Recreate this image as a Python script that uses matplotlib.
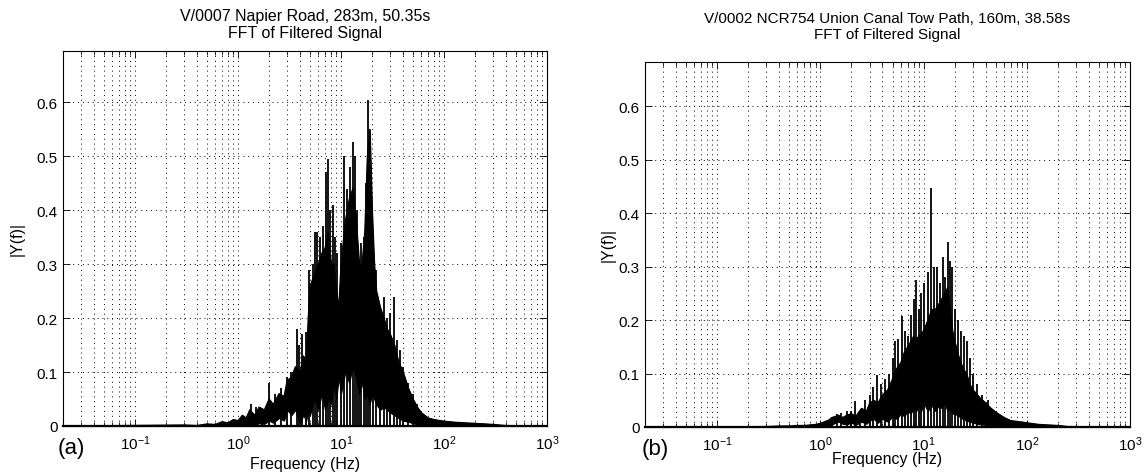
import matplotlib
matplotlib.use("Agg")
import matplotlib.pyplot as plt
from matplotlib.ticker import LogLocator, FixedLocator, NullFormatter

plt.rcParams['font.family'] = ['Liberation Sans', 'DejaVu Sans']
plt.rcParams['mathtext.fontset'] = 'custom'
plt.rcParams['mathtext.rm'] = 'Liberation Sans'
plt.rcParams['mathtext.it'] = 'Liberation Sans'

# ---------------- data ----------------
title_a = "V/0007 Napier Road, 283m, 50.35s\nFFT of Filtered Signal"
title_b = "V/0002 NCR754 Union Canal Tow Path, 160m, 38.58s\nFFT of Filtered Signal"
x_label = "Frequency (Hz)"
y_label = "|Y(f)|"
panel_tags = ["(a)", "(b)"]
y_ticks = [0, 0.1, 0.2, 0.3, 0.4, 0.5, 0.6]
y_tick_labels = ['0', '0.1', '0.2', '0.3', '0.4', '0.5', '0.6']

# panel (a): solid body of the spectrum (top / bottom envelope)
body_freq_a = [0.02, 0.3, 0.4, 0.5, 0.6, 0.7, 0.8, 0.9, 1.0, 1.1,
               1.2, 1.3, 1.45, 1.6, 1.8, 2.0, 2.2, 2.5, 2.8, 3.0,
               3.3, 3.6, 4.0, 4.3, 4.6, 4.8, 5.0, 5.5, 6.0, 6.5,
               7.0, 7.5, 8.0, 8.5, 9.0, 9.5, 10.0, 11.0, 12.0, 13.0,
               14.0, 15.0, 16.0, 17.0, 18.0, 19.0, 20.0, 21.0, 22.0, 24.0,
               26.0, 28.0, 30.0, 33.0, 36.0, 40.0, 45.0, 50.0, 55.0, 60.0,
               70.0, 80.0, 100.0, 130.0, 160.0, 200.0, 250.0, 300.0, 400.0, 1000.0]
body_top_a = [0.0, 0.002, 0.001, 0.004, 0.003, 0.008, 0.006, 0.012, 0.010, 0.020,
              0.015, 0.030, 0.020, 0.035, 0.030, 0.050, 0.040, 0.060, 0.055, 0.085,
              0.090, 0.110, 0.100, 0.130, 0.120, 0.200, 0.260, 0.280, 0.300, 0.320,
              0.330, 0.360, 0.300, 0.300, 0.250, 0.220, 0.300, 0.380, 0.420, 0.440,
              0.380, 0.300, 0.300, 0.360, 0.500, 0.550, 0.400, 0.300, 0.250, 0.220,
              0.200, 0.180, 0.170, 0.150, 0.120, 0.100, 0.070, 0.050, 0.035, 0.025,
              0.015, 0.012, 0.009, 0.007, 0.006, 0.005, 0.004, 0.003, 0.001, 0.0]
body_bot_a = [0.0, 0.0, 0.0, 0.0, 0.0, 0.0, 0.0, 0.0, 0.0, 0.0,
              0.0, 0.003, 0.002, 0.005, 0.004, 0.010, 0.006, 0.015, 0.010, 0.030,
              0.020, 0.030, 0.005, 0.020, 0.010, 0.030, 0.020, 0.050, 0.030, 0.060,
              0.030, 0.050, 0.040, 0.080, 0.050, 0.090, 0.060, 0.100, 0.080, 0.110,
              0.090, 0.060, 0.080, 0.050, 0.060, 0.040, 0.060, 0.050, 0.040, 0.030,
              0.035, 0.030, 0.025, 0.020, 0.015, 0.010, 0.008, 0.005, 0.003, 0.002,
              0.001, 0.0, 0.0, 0.0, 0.0, 0.0, 0.0, 0.0, 0.0, 0.0]
spike_freq_a = [1.33, 1.5, 1.7, 2.01, 2.3, 2.6, 3.0, 3.3, 3.71, 3.9, 4.2, 4.56, 4.9,
                5.3, 5.6, 5.9, 6.3, 6.7, 7.1, 7.45, 7.9, 8.3, 8.7, 9.2, 10.0, 10.8,
                11.5, 12.2, 13.0, 13.6, 14.3, 15.0, 15.8, 16.6, 17.5, 18.3, 19.2,
                20.5, 22.0, 24.0, 26.0, 28.0, 30.0, 32.6, 35.0, 37.0, 40.0, 45.0,
                50.0, 55.0, 60.0]
spike_amp_a = [0.04, 0.035, 0.03, 0.08, 0.06, 0.07, 0.09, 0.10, 0.18, 0.15, 0.17, 0.175,
               0.29, 0.30, 0.36, 0.36, 0.35, 0.37, 0.47, 0.494, 0.40, 0.41, 0.35, 0.32,
               0.34, 0.50, 0.44, 0.48, 0.526, 0.50, 0.40, 0.29, 0.34, 0.35, 0.45, 0.605,
               0.54, 0.36, 0.29, 0.22, 0.24, 0.20, 0.21, 0.24, 0.16, 0.14, 0.11, 0.08,
               0.06, 0.04, 0.02]

# panel (b)
body_freq_b = [0.02, 0.3, 0.4, 0.5, 0.6, 0.7, 0.8, 0.9, 1.0, 1.1,
               1.2, 1.3, 1.4, 1.5, 1.65, 1.8, 2.0, 2.2, 2.5, 2.8,
               3.0, 3.3, 3.6, 4.0, 4.5, 5.0, 5.5, 6.0, 6.5, 7.0,
               7.5, 8.0, 8.5, 9.0, 9.5, 10.0, 11.0, 12.0, 13.0, 14.0,
               15.0, 16.0, 17.0, 18.0, 19.0, 20.0, 22.0, 24.0, 26.0, 28.0,
               30.0, 35.0, 40.0, 45.0, 50.0, 60.0, 70.0, 85.0, 100.0, 130.0,
               160.0, 200.0, 250.0, 1000.0]
body_top_b = [0.0, 0.001, 0.002, 0.002, 0.003, 0.003, 0.004, 0.005, 0.007, 0.010,
              0.013, 0.018, 0.020, 0.022, 0.018, 0.022, 0.025, 0.020, 0.035, 0.030,
              0.045, 0.050, 0.045, 0.060, 0.070, 0.090, 0.110, 0.120, 0.140, 0.150,
              0.160, 0.170, 0.165, 0.170, 0.175, 0.180, 0.200, 0.220, 0.220, 0.230,
              0.240, 0.250, 0.260, 0.220, 0.180, 0.160, 0.130, 0.110, 0.100, 0.080,
              0.070, 0.055, 0.045, 0.035, 0.028, 0.018, 0.012, 0.010, 0.008, 0.005,
              0.004, 0.003, 0.001, 0.0]
body_bot_b = [0.0, 0.0, 0.0, 0.0, 0.0, 0.0, 0.0, 0.0, 0.0, 0.0,
              0.0, 0.005, 0.008, 0.010, 0.006, 0.005, 0.008, 0.004, 0.010, 0.006,
              0.012, 0.015, 0.008, 0.015, 0.010, 0.020, 0.015, 0.025, 0.020, 0.030,
              0.025, 0.035, 0.030, 0.040, 0.030, 0.045, 0.030, 0.040, 0.030, 0.040,
              0.035, 0.045, 0.030, 0.035, 0.025, 0.025, 0.020, 0.015, 0.012, 0.010,
              0.008, 0.005, 0.004, 0.002, 0.001, 0.0, 0.0, 0.0, 0.0, 0.0,
              0.0, 0.0, 0.0, 0.0]
spike_freq_b = [1.12, 1.3, 1.45, 1.57, 1.8, 2.0, 2.17, 2.4, 2.7, 3.0, 3.27, 3.5, 3.9,
                4.2, 4.6, 5.0, 5.3, 5.6, 6.2, 6.6, 7.0, 7.5, 8.0, 8.4, 9.0, 9.5, 10.2,
                11.0, 11.8, 12.5, 13.5, 14.5, 15.5, 16.3, 17.1, 18.0, 18.7, 20.0, 21.5,
                23.0, 24.5, 26.4, 28.0, 29.9, 33.0, 37.0, 42.0, 50.0, 57.0, 70.0]
spike_amp_b = [0.011, 0.018, 0.025, 0.027, 0.03, 0.03, 0.049, 0.03, 0.05, 0.06, 0.074,
               0.098, 0.08, 0.09, 0.10, 0.13, 0.16, 0.164, 0.207, 0.18, 0.17, 0.21,
               0.24, 0.275, 0.22, 0.25, 0.27, 0.29, 0.447, 0.30, 0.30, 0.27, 0.318,
               0.28, 0.346, 0.31, 0.30, 0.22, 0.20, 0.18, 0.17, 0.16, 0.13, 0.10, 0.08,
               0.06, 0.05, 0.03, 0.02, 0.012]

# ---------------- figure ----------------
W, H = 1148, 477
fig = plt.figure(figsize=(W / 100, H / 100), dpi=100)
fig.patch.set_facecolor('white')


def px_axes(l, t, r, b):
    return fig.add_axes([l / W, 1 - b / H, (r - l) / W, (b - t) / H])


def ftext(x, y, s, **kw):
    return fig.text(x / W, 1 - y / H, s, **kw)


ax_a = px_axes(63, 52, 547, 427)
ax_b = px_axes(645, 63, 1130, 428)

panels = [
    dict(ax=ax_a, title=title_a, bf=body_freq_a, bt=body_top_a, bb=body_bot_a,
         sf=spike_freq_a, sa=spike_amp_a, ytop=0.695, tsize=11.5,
         title_y=25, ylab_x=17, xlab_y=465, tag=panel_tags[0], tag_xy=(58, 449)),
    dict(ax=ax_b, title=title_b, bf=body_freq_b, bt=body_top_b, bb=body_bot_b,
         sf=spike_freq_b, sa=spike_amp_b, ytop=0.683, tsize=11.0,
         title_y=27, ylab_x=608, xlab_y=460, tag=panel_tags[1], tag_xy=(642, 450)),
]

for p in panels:
    ax = p['ax']
    ax.set_xscale('log')
    ax.set_xlim(0.02, 1000)
    ax.set_ylim(0, p['ytop'])
    ax.fill_between(p['bf'], p['bb'], p['bt'], color='black', lw=0.8, zorder=3)
    ax.plot(p['bf'], p['bt'], color='black', lw=0.8, zorder=3)
    ax.vlines(p['sf'], 0, p['sa'], color='black', lw=1.3, zorder=3)
    ax.plot([0.02, 1000], [0, 0], color='black', lw=1.6, zorder=4, clip_on=False)

    ax.xaxis.set_major_locator(LogLocator(base=10, numticks=10))
    ax.xaxis.set_minor_locator(LogLocator(base=10, subs=range(2, 10), numticks=20))
    ax.xaxis.set_minor_formatter(NullFormatter())
    ax.yaxis.set_major_locator(FixedLocator(y_ticks))
    ax.set_yticklabels(y_tick_labels)

    ax.grid(True, which='major', axis='both', linestyle=(0, (1, 4)), color='black', lw=0.7)
    ax.grid(True, which='minor', axis='x', linestyle=(0, (1, 4)), color='black', lw=0.7)
    ax.set_axisbelow(True)

    ax.tick_params(which='both', direction='in', top=True, right=True,
                   labelsize=11, colors='black')
    ax.tick_params(axis='y', pad=4)
    ax.tick_params(axis='x', pad=5)
    ax.tick_params(which='major', length=5, width=0.6)
    ax.tick_params(which='minor', length=3, width=0.6)
    for s in ax.spines.values():
        s.set_linewidth(0.8)
        s.set_color('black')

    pos = ax.get_position()
    cx = (pos.x0 + pos.x1) / 2 * W
    cy = (1 - (pos.y0 + pos.y1) / 2) * H
    ftext(cx, p['title_y'], p['title'], ha='center', va='center', fontsize=p['tsize'],
          linespacing=1.15)
    ftext(cx, p['xlab_y'], x_label, ha='center', va='center', fontsize=11.5)
    ftext(p['ylab_x'], cy, y_label, ha='center', va='center', fontsize=11.5,
          rotation=90)
    ftext(p['tag_xy'][0], p['tag_xy'][1], p['tag'], fontsize=16, va='center', ha='left')

fig.savefig('out.png', dpi=100, facecolor='white')
